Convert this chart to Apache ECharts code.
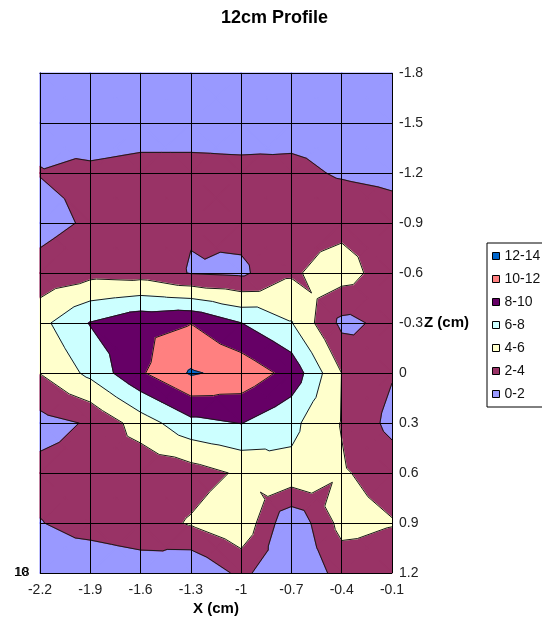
<!DOCTYPE html>
<html>
<head>
<meta charset="utf-8">
<script src="https://cdn.jsdelivr.net/npm/echarts@6/dist/echarts.min.js"></script>
<style>
html,body{margin:0;padding:0;background:#fff;}
#c{width:542px;height:627px;}
</style>
</head>
<body>
<div id="c"></div>
<script>
// Axis tick labels (grid nodes every 0.3 cm)
const xTicks = ['-2.2', '-1.9', '-1.6', '-1.3', '-1', '-0.7', '-0.4', '-0.1'];
const zTicks = ['-1.8', '-1.5', '-1.2', '-0.9', '-0.6', '-0.3', '0', '0.3', '0.6', '0.9', '1.2'];

// Measured values, one row per Z position (top to bottom), one entry per X position
const zRow0  = [1.0, 1.1, 1.2, 1.2, 1.1, 1.2, 1.0, 0.9];
const zRow1  = [1.67, 0.9, 1.14, 1.14, 1.11, 1.3, 1.2, 1.0];
const zRow2  = [2.05, 2.35, 2.6, 2.6, 2.5, 2.45, 1.8, 1.5];
const zRow3  = [1.42, 2.24, 2.6, 2.12, 2.7, 3.3, 3.4, 2.89];
const zRow4  = [2.58, 3.35, 3.15, 1.9, 1.6, 3.75, 4.9, 2.85];
const zRow5  = [5.42, 8.1, 9.5, 9.95, 8.02, 6.1, 1.5, 2.54];
const zRow6  = [4.05, 6.5, 9.75, 12.2, 11.37, 9.3, 3.98, 2.15];
const zRow7  = [1.3, 2.2, 4.97, 7.42, 8.05, 6.5, 3.9, 1.4];
const zRow8  = [2.53, 2.8, 2.55, 3.1, 4.3, 5.44, 4.2, 3.16];
const zRow9  = [1.94, 2.6, 3.0, 4.19, 5.59, 0.3, 4.7, 4.1];
const zRow10 = [1.0, 0.84, 1.15, 0.1, 2.5, 0.2, 2.7, 2.8];

// Contour bands
const bandNames  = ['0-2', '2-4', '4-6', '6-8', '8-10', '10-12', '12-14'];
const bandEdges  = [0, 2, 4, 6, 8, 10, 12, 14];
const bandColors = ['#9999FF', '#993366', '#FFFFCC', '#CCFFFF', '#660066', '#FF8080', '#0066CC'];

const rows = [zRow0, zRow1, zRow2, zRow3, zRow4, zRow5, zRow6, zRow7, zRow8, zRow9, zRow10];
const nx = xTicks.length, nz = zTicks.length;

function val(i, j) { return rows[j][i]; }

// Each grid cell is split into four triangles around its centre point
function triangles(i, j) {
  const a = [i, j, val(i, j)], b = [i + 1, j, val(i + 1, j)];
  const c = [i + 1, j + 1, val(i + 1, j + 1)], d = [i, j + 1, val(i, j + 1)];
  const m = [i + 0.5, j + 0.5, (a[2] + b[2] + c[2] + d[2]) / 4];
  return [[a, b, m], [b, c, m], [c, d, m], [d, a, m]];
}

// Keep the part of a polygon above (or below) a level, linear along edges
function clip(poly, level, keepAbove) {
  const out = [];
  for (let k = 0; k < poly.length; k++) {
    const a = poly[k], b = poly[(k + 1) % poly.length];
    const ina = keepAbove ? a[2] >= level : a[2] <= level;
    const inb = keepAbove ? b[2] >= level : b[2] <= level;
    if (ina) out.push(a);
    if (ina !== inb) {
      const t = (level - a[2]) / (b[2] - a[2]);
      out.push([a[0] + t * (b[0] - a[0]), a[1] + t * (b[1] - a[1]), level]);
    }
  }
  return out;
}

const cells = [];
for (let j = 0; j < nz - 1; j++) {
  for (let i = 0; i < nx - 1; i++) cells.push([i + 0.5, j + 0.5, i, j]);
}

function bandRender(b) {
  const lo = bandEdges[b], hi = bandEdges[b + 1];
  return function (params, api) {
    const i = api.value(2), j = api.value(3);
    const children = [];
    for (const tri of triangles(i, j)) {
      let p = clip(tri, lo, true);
      if (p.length < 3) continue;
      p = clip(p, hi, false);
      if (p.length < 3) continue;
      children.push({
        type: 'polygon',
        shape: { points: p.map(q => api.coord([q[0], q[1]])) },
        style: { fill: bandColors[b], stroke: bandColors[b], lineWidth: 1.2, lineJoin: 'round' },
        silent: true
      });
    }
    return { type: 'group', children };
  };
}

function lineRender(params, api) {
  const i = api.value(2), j = api.value(3);
  const children = [];
  for (const tri of triangles(i, j)) {
    for (let L = 2; L <= 12; L += 2) {
      const pts = [];
      for (let k = 0; k < 3; k++) {
        const a = tri[k], b = tri[(k + 1) % 3];
        if ((a[2] - L) * (b[2] - L) < 0) {
          const t = (L - a[2]) / (b[2] - a[2]);
          pts.push(api.coord([a[0] + t * (b[0] - a[0]), a[1] + t * (b[1] - a[1])]));
        }
      }
      if (pts.length === 2) {
        children.push({
          type: 'line',
          shape: { x1: pts[0][0], y1: pts[0][1], x2: pts[1][0], y2: pts[1][1] },
          style: { stroke: '#1a1a1a', lineWidth: 1 },
          silent: true
        });
      }
    }
  }
  return { type: 'group', children };
}

const font = "'Liberation Sans', Arial, sans-serif";

const series = bandNames.map((name, b) => ({
  name,
  type: 'custom',
  coordinateSystem: 'cartesian2d',
  data: cells,
  encode: { x: 0, y: 1 },
  renderItem: bandRender(b),
  itemStyle: { color: bandColors[b], borderColor: '#000', borderWidth: 1 },
  z: 2,
  silent: true
}));
series.push({
  name: 'contours',
  type: 'custom',
  coordinateSystem: 'cartesian2d',
  data: cells,
  encode: { x: 0, y: 1 },
  renderItem: lineRender,
  z: 3,
  silent: true
});

const chart = echarts.init(document.getElementById('c'));
chart.setOption({
  animation: false,
  backgroundColor: '#fff',
  title: {
    text: '12cm Profile',
    left: 216,
    top: 4,
    textStyle: { fontFamily: font, fontSize: 18, fontWeight: 'bold', color: '#000' }
  },
  legend: {
    orient: 'vertical',
    left: 487,
    top: 243,
    data: bandNames.slice().reverse(),
    icon: 'rect',
    itemWidth: 7,
    itemHeight: 7,
    itemGap: 9,
    padding: [6, 20, 6, 5],
    borderColor: '#000',
    borderWidth: 1,
    backgroundColor: '#fff',
    textStyle: { fontFamily: font, fontSize: 14, color: '#111' },
    itemStyle: { borderColor: '#000', borderWidth: 1 }
  },
  grid: { left: 40, right: 150, top: 73, bottom: 54 },
  xAxis: {
    type: 'value',
    min: 0,
    max: nx - 1,
    interval: 1,
    z: 10,
    name: 'X (cm)',
    nameLocation: 'middle',
    nameMoveOverlap: false,
    nameGap: 28,
    nameTextStyle: { fontFamily: font, fontSize: 15, fontWeight: 'bold', color: '#000' },
    axisLine: { show: true, lineStyle: { color: '#000', width: 1 } },
    axisTick: { show: true, length: 5, lineStyle: { color: '#000' } },
    axisLabel: {
      margin: 10,
      fontFamily: font, fontSize: 14, color: '#222',
      formatter: v => xTicks[Math.round(v)]
    },
    splitLine: { show: true, lineStyle: { color: '#000', width: 1 } }
  },
  yAxis: {
    type: 'value',
    inverse: true,
    position: 'right',
    min: 0,
    max: nz - 1,
    interval: 1,
    z: 10,
    name: 'Z (cm)',
    nameLocation: 'middle',
    nameMoveOverlap: false,
    nameRotate: 0,
    nameGap: 32,
    nameTextStyle: { fontFamily: font, fontSize: 15, fontWeight: 'bold', color: '#000', align: 'left' },
    axisLine: { show: true, lineStyle: { color: '#000', width: 1 } },
    axisTick: { show: true, length: 5, lineStyle: { color: '#000' } },
    axisLabel: {
      margin: 7,
      fontFamily: font, fontSize: 14, color: '#222',
      formatter: v => zTicks[Math.round(v)]
    },
    splitLine: { show: true, lineStyle: { color: '#000', width: 1 } }
  },
  graphic: [
    { type: 'text', left: 14, top: 566, style: { text: '10', fontFamily: font, fontSize: 13, fill: '#000' } },
    { type: 'text', left: 15, top: 566, style: { text: '18', fontFamily: font, fontSize: 13, fill: '#000' } }
  ],
  series
});
</script>
</body>
</html>
